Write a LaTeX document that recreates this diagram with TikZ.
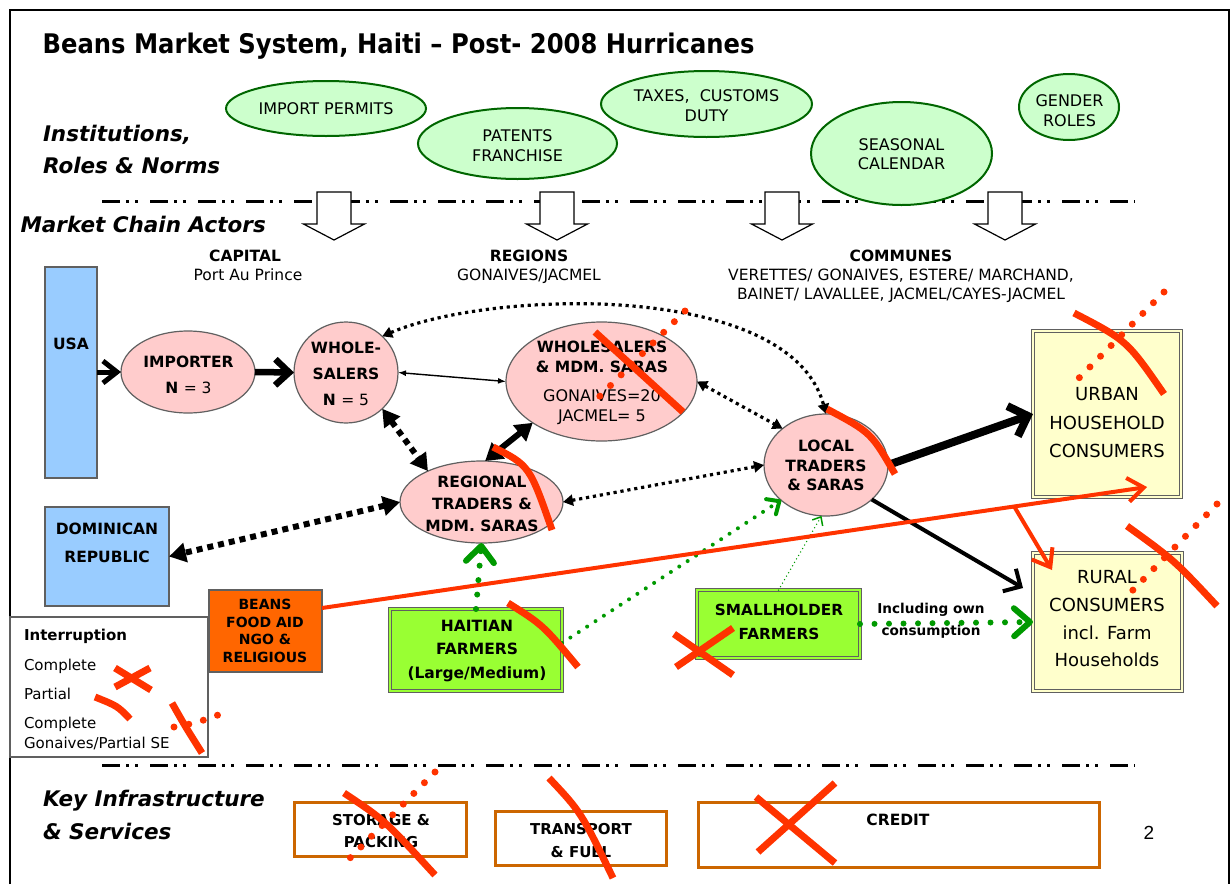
\documentclass[tikz,border=0pt]{standalone}
\usepackage{fontspec}
\setmainfont{DejaVu Sans}
\newfontfamily\digitfont{Liberation Sans}
\usetikzlibrary{arrows.meta,shapes.geometric}
\definecolor{instfill}{HTML}{CCFFCC}
\definecolor{instdraw}{HTML}{006600}
\definecolor{actfill}{HTML}{FFCCCC}
\definecolor{edgegray}{HTML}{606060}
\definecolor{bluefill}{HTML}{99CCFF}
\definecolor{yellowfill}{HTML}{FFFFCC}
\definecolor{limefill}{HTML}{99FF33}
\definecolor{orangefill}{HTML}{FF6600}
\definecolor{redmark}{HTML}{FF3300}
\definecolor{infra}{HTML}{CC6600}
\definecolor{greenarr}{HTML}{009900}
\newcommand\fsz[2]{\fontsize{#1}{#2}\selectfont}
\tikzset{
  every node/.style={outer sep=0pt},
  inst/.style={ellipse, draw=instdraw, fill=instfill, line width=2pt, inner sep=0pt},
  insttext/.style={align=center, inner sep=0pt, font=\fsz{16}{19.5}},
  actor/.style={ellipse, draw=edgegray, fill=actfill, line width=1.2pt, inner sep=0pt},
  acttext/.style={align=center, inner sep=0pt, font=\bfseries\fsz{15.5}{26}},
  bluebox/.style={rectangle, draw=edgegray, fill=bluefill, line width=1.8pt, inner sep=0pt},
  dblbox/.style={rectangle, draw=edgegray, fill=#1, double=#1, double distance=2pt, line width=1.3pt, inner sep=0pt},
  infrabox/.style={rectangle, draw=infra, fill=white, line width=3pt, inner sep=0pt},
  boxtext/.style={align=center, inner sep=0pt},
  sectionlbl/.style={anchor=base west, inner sep=0pt, font=\bfseries\itshape\fsz{21.5}{24}},
  hdr/.style={anchor=base, inner sep=0pt, font=\fsz{15.5}{19}},
  legtext/.style={anchor=base west, inner sep=0pt, font=\fsz{15}{18}},
  sepline/.style={line width=3pt, dash pattern=on 18pt off 6pt on 3pt off 6pt on 3pt off 12pt},
  blockarr/.style={draw=black, fill=white, line width=1.2pt, line join=miter},
  bigdots/.style={line width=6pt, dash pattern=on 6pt off 5pt},
  meddots/.style={line width=3.2pt, dash pattern=on 3.2pt off 3.8pt},
  bigtri/.tip={Triangle[length=17pt,width=19pt]},
  medtri/.tip={Triangle[length=10pt,width=11pt]},
  thintip/.tip={Latex[length=8pt,width=6pt]},
  soltri/.tip={Triangle[length=17pt,width=20pt]},
  gbig/.style={draw=greenarr, line width=6pt, line cap=round, dash pattern=on 0pt off 14.5pt, -{Straight Barb[round,length=16pt,width=28pt]}},
  gmed/.style={draw=greenarr, line width=4pt, line cap=round, dash pattern=on 0pt off 10pt, -{Straight Barb[round,length=10pt,width=18pt]}},
  gthin/.style={draw=greenarr, line width=1.5pt, line cap=round, dash pattern=on 0pt off 4pt, -{Straight Barb[length=7pt,width=12pt]}},
  redarr/.style={draw=redmark, line width=4pt, -{Straight Barb[length=16pt,width=24pt]}},
  redcut/.style={draw=redmark, line width=7pt},
  reddots/.style={draw=redmark, line width=7pt, line cap=round, dash pattern=on 0pt off 15.05pt}
}
\begin{document}
\begin{tikzpicture}[x=1pt,y=-1pt]
\useasboundingbox (0,0) rectangle (1231,884);
% frame
\draw[line width=2pt] (10,884) -- (10,10) -- (1229,10) -- (1229,884);
% separators
\draw[sepline] (102,201) -- (1135,201);
\draw[sepline] (102,765) -- (1135,765);
% block arrows
\foreach \cx in {334,557,782,1005}{
  \draw[blockarr] (\cx-17,192) -- (\cx+17,192) -- (\cx+17,224) -- (\cx+30.5,224) -- (\cx,240) -- (\cx-30.5,224) -- (\cx-17,224) -- cycle;
}
% institutions
\node[inst, minimum width=200pt, minimum height=55pt] (ip) at (326,108.5) {};
\node[insttext] (ipT) at (326,109) {IMPORT PERMITS};
\node[inst, minimum width=199pt, minimum height=71pt] (pf) at (517.5,143.5) {};
\node[insttext] (pfT) at (517.5,145.5) {PATENTS\\FRANCHISE};
\node[inst, minimum width=211pt, minimum height=66pt] (tx) at (706.5,104) {};
\node[insttext] (txT) at (706.5,105.5) {TAXES,\ \ CUSTOMS\\DUTY};
\node[inst, minimum width=181pt, minimum height=103pt] (sc) at (901.5,153.5) {};
\node[insttext] (scT) at (901.5,154) {SEASONAL\\CALENDAR};
\node[inst, minimum width=100pt, minimum height=66pt] (gr) at (1069,107) {};
\node[insttext] (grT) at (1069.5,110.5) {GENDER\\ROLES};
% title and section labels
\node[anchor=base west, inner sep=0pt, font=\bfseries\fsz{27}{30}] (title) at (42.7,53.3) {\scalebox{0.898}[1]{Beans Market System, Haiti – Post- 2008 Hurricanes}};
\node[sectionlbl] (lblInst) at (43,141.7) {Institutions,};
\node[sectionlbl] (lblRoles) at (43,173) {Roles \& Norms};
\node[sectionlbl] (lblMkt) at (20.5,232) {Market Chain Actors};
\node[sectionlbl] (lblKey) at (43,806) {Key Infrastructure};
\node[sectionlbl] (lblSvc) at (43,839) {\& Services};
% headers
\node[hdr, font=\bfseries\fsz{15.5}{19}] (hCap) at (245,261.7) {CAPITAL};
\node[hdr] (hCap2) at (248,280) {Port Au Prince};
\node[hdr, font=\bfseries\fsz{15.5}{19}] (hReg) at (529,261.7) {REGIONS};
\node[hdr] (hReg2) at (529,280) {GONAIVES/JACMEL};
\node[hdr, font=\bfseries\fsz{15.5}{19}] (hCom) at (901,261.7) {COMMUNES};
\node[hdr] (hCom2) at (901,280) {VERETTES/ GONAIVES, ESTERE/ MARCHAND,};
\node[hdr] (hCom3) at (901,299) {BAINET/ LAVALLEE, JACMEL/CAYES-JACMEL};
% actors
\node[bluebox, minimum width=52pt, minimum height=211pt] (usa) at (71,372.5) {};
\node[acttext] (usaT) at (71,344) {USA};
\node[bluebox, minimum width=124pt, minimum height=99pt] (dom) at (107,556.5) {};
\node[acttext, font=\bfseries\fsz{15.5}{28}] (domT) at (107,543) {DOMINICAN\\REPUBLIC};
\node[actor, minimum width=134pt, minimum height=82pt] (imp) at (188,372) {};
\node[acttext] (impT) at (188.5,375) {IMPORTER\\N {\mdseries = 3}};
\node[actor, minimum width=104pt, minimum height=101pt] (whole) at (346,372.5) {};
\node[acttext] (wholeT) at (346,373.7) {WHOLE-\\SALERS\\N {\mdseries = 5}};
\node[actor, minimum width=191pt, minimum height=119pt] (wms) at (601.5,381.5) {};
\node[acttext, font=\bfseries\fsz{15.5}{20}] (wmsT) at (602,382.5) {WHOLESALERS\\\& MDM. SARAS\\[9pt]{\mdseries\fsz{16}{20}GONAIVES=20}\\{\mdseries\fsz{16}{20}JACMEL= 5}};
\node[actor, minimum width=163pt, minimum height=82pt] (reg) at (481.5,502) {};
\node[acttext, font=\bfseries\fsz{15.5}{22}] (regT) at (482,503.7) {REGIONAL\\TRADERS \&\\MDM. SARAS};
\node[actor, minimum width=124pt, minimum height=102pt] (loc) at (826,465) {};
\node[acttext, font=\bfseries\fsz{15.5}{19.5}] (locT) at (826,465.7) {LOCAL\\TRADERS\\\& SARAS};
\node[dblbox=yellowfill, minimum width=148pt, minimum height=166pt] (urban) at (1107,414) {};
\node[boxtext, font=\fsz{18}{28.5}] (urbanT) at (1107,422.7) {URBAN\\HOUSEHOLD\\CONSUMERS};
\node[dblbox=yellowfill, minimum width=149pt, minimum height=138pt] (rural) at (1107.5,622) {};
\node[boxtext, font=\fsz{18}{27.7}] (ruralT) at (1107,618.75) {RURAL\\CONSUMERS\\incl. Farm\\Households};
\node[rectangle, draw=edgegray, fill=orangefill, line width=1.8pt, inner sep=0pt, minimum width=113pt, minimum height=82pt] (beans) at (265.5,631) {};
\node[boxtext, font=\bfseries\fsz{14}{17.7}] (beansT) at (265,630.75) {BEANS\\FOOD AID\\NGO \&\\RELIGIOUS};
\node[dblbox=limefill, minimum width=172pt, minimum height=82pt] (hait) at (476,650) {};
\node[boxtext, font=\bfseries\fsz{15.5}{23.5}] (haitT) at (477,651) {HAITIAN\\FARMERS\\(Large/Medium)};
\node[dblbox=limefill, minimum width=163pt, minimum height=68pt] (small) at (778.5,624) {};
\node[boxtext, font=\bfseries\fsz{15.3}{24}] (smallT) at (779,622) {SMALLHOLDER\\FARMERS};
\node[boxtext, font=\bfseries\fsz{13.6}{22}] (incl) at (931,621) {Including own\\consumption};
% legend
\node[rectangle, draw=edgegray, fill=white, line width=1.2pt, inner sep=0pt, minimum width=198pt, minimum height=140pt] (legend) at (109,687) {};
\node[legtext, font=\bfseries\fsz{15}{18}] (legT1) at (24,640) {Interruption};
\node[legtext] (legT2) at (24,670) {Complete};
\node[legtext] (legT3) at (24,699) {Partial};
\node[legtext] (legT4) at (24,728) {Complete};
\node[legtext] (legT5) at (24,748) {Gonaives/Partial SE};
% infrastructure
\node[infrabox, minimum width=172pt, minimum height=54pt] (stor) at (380.5,829.5) {};
\node[boxtext, font=\bfseries\fsz{15}{22}] (storT) at (381,831) {STORAGE \&\\PACKING};
\node[infrabox, minimum width=171pt, minimum height=54pt] (trans) at (581,838.5) {};
\node[boxtext, font=\bfseries\fsz{15}{23}] (transT) at (581,840.5) {TRANSPORT\\\& FUEL};
\node[infrabox, minimum width=401pt, minimum height=65pt] (credit) at (899,835) {};
\node[boxtext, font=\bfseries\fsz{15.5}{19}] (creditT) at (898,820) {CREDIT};
\node[inner sep=0pt, font=\digitfont\fsz{19}{22}] (pg) at (1149,833) {2};
% black connectors
\draw[line width=5pt, -{Straight Barb[length=14pt,width=22pt]}] (usa.east |- imp.west) -- (imp.west);
\draw[line width=6.5pt, -{Straight Barb[length=14pt,width=26pt]}] (imp.east) -- (whole.west);
\draw[line width=1.4pt, thintip-thintip] (whole.east) -- (wms.west);
\draw[bigdots, bigtri-bigtri] (whole.-45) -- (reg.150);
\draw[line width=6pt, soltri-soltri] (reg.85) -- (wms.211);
\draw[bigdots, bigtri-bigtri] (reg.west) -- (dom.east);
\draw[meddots, medtri-medtri] (whole.45) .. controls (490,290) and (790,280) .. (loc.north);
\draw[meddots, medtri-medtri] (wms.east) -- (loc.140);
\draw[meddots, medtri-medtri] (reg.east) -- (loc.west);
\draw[line width=8pt, -{Straight Barb[length=16pt,width=32pt]}] (loc.east) -- (urban.west);
\draw[line width=4pt, -{Straight Barb[length=13pt,width=26pt]}] (loc.-37) -- ([xshift=-10pt,yshift=34pt]rural.west);
% green connectors
\draw[gbig] (hait.north) -- (reg.south);
\draw[gbig] (small.east) -- (rural.west);
\draw[gmed] ([yshift=7pt]hait.east) -- (loc.218);
\draw[gthin] (small.north) -- (loc.265);
% red food aid arrow
\coordinate (redtip) at (1147,487);
\draw[redarr] ([yshift=23pt]beans.east) -- coordinate[pos=0.839] (branch) (redtip);
\draw[redarr] (branch) -- ([xshift=19pt,yshift=-17pt]rural.north west);
% red interruption marks
\draw[redcut] (595,332) -- (683,412);
\draw[reddots] (685,311) -- (599,397);
\draw[redcut] (493,447) .. controls (529.5,465.5) .. (552,530);
\draw[redcut] (827,409) .. controls (871,432.5) .. (895,474);
\draw[redcut] (1074,313) .. controls (1127,340.5) .. (1164,394);
\draw[reddots] (1164,292) -- (1079,378);
\draw[redcut] (1127,526) .. controls (1174,560) .. (1217,606);
\draw[reddots] (1217,504) -- (1132,591);
\draw[redcut] (508,603) .. controls (543,625) .. (578,667);
\draw[redcut] (674,634) -- (733,675);
\draw[redcut] (676,667) -- (733,628);
\draw[redcut] (344,793) .. controls (384.5,820) .. (435,875);
\draw[reddots] (435,772) -- (350,858);
\draw[redcut] (549,778) .. controls (581,812) .. (613,878);
\draw[redcut] (756,797) -- (835,863);
\draw[redcut] (758,852) -- (835,783);
% legend marks
\draw[redcut] (115,668) -- (151,690);
\draw[redcut] (115,687) -- (150,668);
\draw[redcut] (95,697) .. controls (117.5,706) .. (130,719);
\draw[redcut] (172,703) .. controls (185,726) .. (202,753);
\draw[reddots] (174,727) -- (190,724) -- (204,720) -- (218,715);
\end{tikzpicture}
\end{document}
